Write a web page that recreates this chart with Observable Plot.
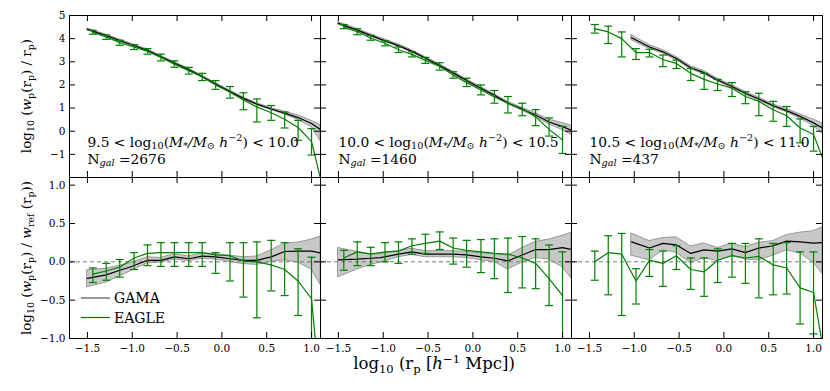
<!DOCTYPE html>
<html><head><meta charset="utf-8">
<script src="https://cdn.jsdelivr.net/npm/d3@7"></script>
<script src="https://cdn.jsdelivr.net/npm/@observablehq/plot@0.6"></script>
<style>
body{margin:0;background:#fff;}
#fig{position:relative;width:830px;height:391px;overflow:hidden;font-family:"DejaVu Serif",serif;background:#fff;}
#fig svg{position:absolute;}
</style></head><body><div id="fig"></div>
<script>
// ---------- data ----------
const massLo = ["9.5", "10.0", "10.5"];
const massHi = ["10.0", "10.5", "11.0"];
const nGal = [2676, 1460, 437];
const xTicks = [-1.5, -1.0, -0.5, 0.0, 0.5, 1.0];
const yTicksTop = [-1, 0, 1, 2, 3, 4, 5];
const yTicksBottom = [-1.0, -0.5, 0.0, 0.5, 1.0];

const eagleX = [-1.44, -1.29, -1.14, -0.98, -0.83, -0.68, -0.53, -0.37, -0.22, -0.07, 0.09, 0.24, 0.39, 0.55, 0.70, 0.85, 1.00, 1.16];
const gamaX  = [-1.5, -1.29, -1.14, -1.03, -0.83, -0.68, -0.53, -0.37, -0.22, -0.07, 0.09, 0.24, 0.39, 0.55, 0.70, 0.85, 1.00, 1.1];

// panel 1 (9.5-10.0)
const gamaWp1   = [4.40, 4.13, 3.92, 3.77, 3.50, 3.22, 2.95, 2.66, 2.36, 2.04, 1.72, 1.42, 1.17, 0.96, 0.78, 0.59, 0.33, 0.07];
const gamaWp1Lo = [4.36, 4.09, 3.88, 3.73, 3.46, 3.18, 2.91, 2.62, 2.32, 2.00, 1.68, 1.38, 1.13, 0.92, 0.72, 0.49, 0.18, -0.43];
const gamaWp1Hi = [4.44, 4.17, 3.96, 3.81, 3.54, 3.26, 2.99, 2.70, 2.40, 2.08, 1.76, 1.46, 1.21, 1.00, 0.84, 0.69, 0.45, 0.26];
const eagleWp1   = [4.27, 4.07, 3.83, 3.64, 3.45, 3.19, 2.90, 2.62, 2.35, 2.00, 1.68, 1.35, 1.05, 0.80, 0.52, 0.16, -0.45, -3.0];
const eagleWp1Lo = [4.19, 3.97, 3.71, 3.53, 3.33, 3.04, 2.76, 2.47, 2.19, 1.81, 1.43, 0.93, 0.40, 0.47, 0.14, -0.39, -1.03, null];
const eagleWp1Hi = [4.36, 4.16, 3.93, 3.74, 3.57, 3.33, 3.04, 2.76, 2.50, 2.19, 1.93, 1.66, 1.39, 1.11, 0.83, 0.47, 0.11, null];
const gamaRat1   = [-0.215, -0.17, -0.11, -0.07, 0.02, 0.02, 0.065, 0.04, 0.075, 0.065, 0.04, 0.02, 0.02, 0.065, 0.135, 0.14, 0.14, 0.115];
const gamaRat1Lo = [-0.33, -0.27, -0.19, -0.13, -0.02, -0.01, 0.03, 0.01, 0.04, 0.03, 0.00, -0.03, -0.04, 0.00, 0.02, -0.01, -0.10, -0.30];
const gamaRat1Hi = [-0.11, -0.09, -0.05, -0.02, 0.06, 0.05, 0.10, 0.07, 0.11, 0.10, 0.08, 0.06, 0.07, 0.15, 0.24, 0.25, 0.29, 0.33];
const eagleRat1   = [-0.16, -0.12, -0.07, 0.05, 0.11, 0.12, 0.12, 0.12, 0.12, 0.09, 0.08, 0.01, 0.00, -0.04, -0.10, -0.25, -0.48, -2.5];
const eagleRat1Lo = [-0.27, -0.24, -0.20, -0.10, -0.05, -0.06, -0.06, -0.06, -0.06, -0.15, -0.25, -0.46, -0.73, -0.38, -0.44, -0.70, -1.05, null];
const eagleRat1Hi = [-0.08, -0.02, 0.03, 0.12, 0.22, 0.25, 0.25, 0.25, 0.25, 0.12, 0.25, 0.25, 0.26, 0.28, 0.25, 0.17, 0.06, null];

// panel 2 (10.0-10.5)
const gamaWp2   = [4.66, 4.37, 4.14, 3.98, 3.70, 3.45, 3.16, 2.84, 2.52, 2.19, 1.86, 1.55, 1.22, 0.95, 0.70, 0.40, 0.20, 0.04];
const gamaWp2Lo = [4.61, 4.32, 4.09, 3.93, 3.65, 3.40, 3.11, 2.79, 2.47, 2.14, 1.81, 1.50, 1.17, 0.89, 0.62, 0.30, 0.05, -0.16];
const gamaWp2Hi = [4.71, 4.42, 4.19, 4.03, 3.75, 3.50, 3.21, 2.89, 2.57, 2.24, 1.91, 1.60, 1.27, 1.01, 0.78, 0.50, 0.35, 0.24];
const eagleWp2   = [4.50, 4.30, 4.03, 3.80, 3.52, 3.32, 3.06, 2.80, 2.43, 2.10, 1.78, 1.48, 1.21, 0.98, 0.62, 0.08, -0.38, null];
const eagleWp2Lo = [4.43, 4.17, 3.93, 3.69, 3.40, 3.21, 2.93, 2.64, 2.29, 1.93, 1.57, 1.21, 0.79, 0.67, 0.24, -0.21, -0.96, null];
const eagleWp2Hi = [4.61, 4.43, 4.14, 3.90, 3.64, 3.43, 3.19, 2.96, 2.57, 2.29, 2.00, 1.76, 1.50, 1.21, 0.93, 0.57, 0.21, null];
const gamaRat2   = [0.026, 0.035, 0.047, 0.055, 0.10, 0.13, 0.10, 0.10, 0.10, 0.09, 0.065, 0.047, 0.013, 0.09, 0.16, 0.16, 0.185, 0.16];
const gamaRat2Lo = [-0.20, -0.10, -0.04, -0.01, 0.06, 0.09, 0.06, 0.06, 0.06, 0.05, 0.02, 0.00, -0.10, -0.01, 0.05, 0.03, -0.07, -0.22];
const gamaRat2Hi = [0.18, 0.13, 0.10, 0.10, 0.14, 0.17, 0.14, 0.14, 0.14, 0.13, 0.11, 0.10, 0.08, 0.18, 0.26, 0.29, 0.34, 0.38];
const eagleRat2   = [0.05, 0.13, 0.10, 0.13, 0.14, 0.21, 0.24, 0.27, 0.18, 0.15, 0.13, 0.11, 0.10, 0.05, -0.02, -0.22, -0.44, null];
const eagleRat2Lo = [-0.11, -0.05, -0.05, 0.00, -0.02, 0.10, 0.11, 0.16, -0.03, -0.07, -0.14, -0.22, -0.40, -0.34, -0.35, -0.57, -1.05, null];
const eagleRat2Hi = [0.15, 0.26, 0.19, 0.25, 0.26, 0.30, 0.36, 0.39, 0.31, 0.28, 0.29, 0.30, 0.31, 0.33, 0.30, 0.22, 0.13, null];

// panel 3 (10.5-11.0)
const gamaWp3   = [null, null, null, 4.04, 3.64, 3.43, 3.14, 2.74, 2.53, 2.21, 1.93, 1.64, 1.39, 1.10, 0.89, 0.64, 0.36, 0.14];
const gamaWp3Lo = [null, null, null, 3.93, 3.56, 3.36, 3.07, 2.67, 2.46, 2.15, 1.87, 1.58, 1.33, 1.04, 0.82, 0.55, 0.22, -0.11];
const gamaWp3Hi = [null, null, null, 4.15, 3.72, 3.50, 3.21, 2.81, 2.60, 2.27, 1.99, 1.70, 1.45, 1.16, 0.96, 0.73, 0.50, 0.34];
const eagleWp3   = [4.43, 4.29, 4.00, 3.40, 3.40, 3.10, 2.93, 2.50, 2.24, 2.04, 1.86, 1.50, 1.29, 0.93, 0.67, 0.14, -0.14, -1.75];
const eagleWp3Lo = [4.24, 3.79, 3.21, 3.10, 3.21, 2.79, 2.71, 2.19, 1.81, 1.76, 1.50, 1.19, 0.67, 0.43, 0.21, -0.50, -0.86, null];
const eagleWp3Hi = [4.61, 4.54, 4.29, 3.57, 3.54, 3.29, 3.07, 2.71, 2.50, 2.24, 2.10, 1.71, 1.64, 1.29, 1.07, 0.53, 0.21, null];
const gamaRat3   = [null, null, null, 0.26, 0.18, 0.24, 0.22, 0.11, 0.155, 0.14, 0.17, 0.12, 0.18, 0.21, 0.27, 0.26, 0.245, 0.25];
const gamaRat3Lo = [null, null, null, 0.08, 0.02, 0.15, 0.12, -0.02, 0.05, 0.01, 0.08, 0.03, 0.02, 0.08, 0.15, 0.11, -0.01, -0.16];
const gamaRat3Hi = [null, null, null, 0.37, 0.27, 0.31, 0.32, 0.20, 0.24, 0.18, 0.24, 0.19, 0.25, 0.27, 0.35, 0.38, 0.40, 0.45];
const eagleRat3   = [0.00, 0.12, 0.10, -0.25, 0.02, -0.02, 0.08, -0.10, -0.13, 0.02, 0.08, 0.05, 0.07, -0.04, -0.08, -0.34, -0.40, -1.5];
const eagleRat3Lo = [-0.24, -0.43, -0.70, -0.55, -0.19, -0.32, -0.10, -0.36, -0.45, -0.27, -0.20, -0.28, -0.47, -0.43, -0.42, -0.81, -0.94, null];
const eagleRat3Hi = [0.14, 0.34, 0.37, -0.09, 0.16, 0.14, 0.21, 0.05, 0.05, 0.17, 0.24, 0.24, 0.30, 0.24, 0.25, 0.13, 0.13, null];

// ---------- layout ----------
const GREEN = "#008000";
const FL = [69, 320, 571];
const FW = 251;
const ROWS = [
  {top: 15, h: 162, domain: [-2, 5], ticks: yTicksTop, fmt: d => (d < 0 ? "−" : "") + Math.abs(d)},
  {top: 177, h: 161, domain: [-1, 1.1], ticks: yTicksBottom, fmt: d => (d < 0 ? "−" : "") + Math.abs(d).toFixed(1)}
];
const M = {l: 40, r: 12, t: 10, b: 30};
const fmtX = d => (d < 0 ? "−" : "") + Math.abs(d).toFixed(1);
const fig = document.getElementById("fig");

function recs(xs, ys, los, his) {
  return xs.map((x, i) => ({x, y: ys[i], lo: los[i], hi: his[i]})).filter(d => d.y != null);
}
const cap = {draw(ctx) { ctx.moveTo(-4, 0); ctx.lineTo(4, 0); }};

function panel(c, r, g, e) {
  const R = ROWS[r];
  const gd = recs(gamaX, g[0], g[1], g[2]);
  const ed = recs(eagleX, e[0], e[1], e[2]);
  const eb = ed.filter(d => d.lo != null);
  const marks = [
    Plot.areaY(gd, {x: "x", y1: "lo", y2: "hi", fill: "#c8c8c8", stroke: "#8e8e8e", strokeWidth: 0.9, clip: true})
  ];
  if (r === 1) marks.push(Plot.ruleY([0], {stroke: "#7a7a7a", strokeWidth: 1, strokeDasharray: "4,3"}));
  marks.push(
    Plot.lineY(gd, {x: "x", y: "y", stroke: "black", strokeWidth: 1.2, clip: true}),
    Plot.ruleX(eb, {x: "x", y1: "lo", y2: "hi", stroke: GREEN, strokeWidth: 1.2, clip: true}),
    Plot.dot(eb, {x: "x", y: "lo", symbol: cap, fill: "none", stroke: GREEN, strokeWidth: 1.2, clip: true}),
    Plot.dot(eb, {x: "x", y: "hi", symbol: cap, fill: "none", stroke: GREEN, strokeWidth: 1.2, clip: true}),
    Plot.lineY(ed, {x: "x", y: "y", stroke: GREEN, strokeWidth: 1.2, clip: true}),
    Plot.ruleX(xTicks, {insetTop: R.h - 6, stroke: "black"}),
    Plot.ruleX(xTicks, {insetBottom: R.h - 6, stroke: "black"}),
    Plot.ruleY(R.ticks, {insetRight: FW - 6, stroke: "black"}),
    Plot.ruleY(R.ticks, {insetLeft: FW - 6, stroke: "black"}),
    Plot.frame({stroke: "black", strokeWidth: 1})
  );
  if (c === 0) marks.push(Plot.axisY({ticks: R.ticks, tickSize: 0, tickPadding: 4, tickFormat: R.fmt, label: null}));
  if (r === 1) marks.push(Plot.axisX({ticks: xTicks, tickSize: 0, tickPadding: 6, tickFormat: fmtX, label: null}));
  const svg = Plot.plot({
    width: M.l + FW + M.r, height: M.t + R.h + M.b,
    marginLeft: M.l, marginRight: M.r, marginTop: M.t, marginBottom: M.b,
    x: {domain: [-1.7, 1.1], axis: null},
    y: {domain: R.domain, axis: null},
    style: {background: "transparent", fontFamily: "DejaVu Serif", fontSize: "10.5px", color: "black", overflow: "visible"},
    marks
  });
  svg.style.left = (FL[c] - M.l) + "px";
  svg.style.top = (R.top - M.t) + "px";
  fig.appendChild(svg);
}

const panelsData = [
  [[gamaWp1, gamaWp1Lo, gamaWp1Hi], [eagleWp1, eagleWp1Lo, eagleWp1Hi], [gamaRat1, gamaRat1Lo, gamaRat1Hi], [eagleRat1, eagleRat1Lo, eagleRat1Hi]],
  [[gamaWp2, gamaWp2Lo, gamaWp2Hi], [eagleWp2, eagleWp2Lo, eagleWp2Hi], [gamaRat2, gamaRat2Lo, gamaRat2Hi], [eagleRat2, eagleRat2Lo, eagleRat2Hi]],
  [[gamaWp3, gamaWp3Lo, gamaWp3Hi], [eagleWp3, eagleWp3Lo, eagleWp3Hi], [gamaRat3, gamaRat3Lo, gamaRat3Hi], [eagleRat3, eagleRat3Lo, eagleRat3Hi]]
];
panelsData.forEach((p, c) => { panel(c, 0, p[0], p[1]); panel(c, 1, p[2], p[3]); });

// ---------- text overlay ----------
const ov = d3.create("svg").attr("width", 830).attr("height", 391)
  .style("left", "0px").style("top", "0px")
  .attr("font-family", "DejaVu Serif").attr("fill", "black");
function rich(sel, parts, size, subDrop = 0.22) {
  let shift = 0;
  for (const p of parts) {
    const target = p.sub ? subDrop * size : p.sup ? -0.38 * size : 0;
    const s = sel.append("tspan").text(p.t).attr("dy", target - shift);
    shift = target;
    if (p.sub || p.sup) s.attr("font-size", size * 0.7);
    if (p.it) s.attr("font-style", "italic");
  }
  return sel;
}
// annotations
for (let c = 0; c < 3; c++) {
  const x0 = FL[c] + 18.5;
  rich(ov.append("text").attr("x", x0).attr("y", 146.5).attr("font-size", 13.8), [
    {t: massLo[c] + " < log"}, {t: "10", sub: true}, {t: "("}, {t: "M", it: true}, {t: "*", sub: true, it: true},
    {t: "/", it: true}, {t: "M", it: true}, {t: "⊙", sub: true}, {t: " h", it: true}, {t: "−2", sup: true},
    {t: ") < " + massHi[c]}
  ], 13.8, 0.16);
  rich(ov.append("text").attr("x", x0).attr("y", 163.5).attr("font-size", 13.8), [
    {t: "N"}, {t: "gal", sub: true, it: true}, {t: " =" + nGal[c]}
  ], 13.8, 0.16);
}
// axis titles
rich(ov.append("text").attr("text-anchor", "middle").attr("font-size", 13.5)
  .attr("transform", "translate(31,96) rotate(-90)"), [
  {t: "log"}, {t: "10", sub: true}, {t: " ("}, {t: "w", it: true}, {t: "p", sub: true}, {t: "(r"}, {t: "p", sub: true},
  {t: ") / r"}, {t: "p", sub: true}, {t: ")"}
], 13.5);
rich(ov.append("text").attr("text-anchor", "middle").attr("font-size", 13.5)
  .attr("transform", "translate(31,258) rotate(-90)"), [
  {t: "log"}, {t: "10", sub: true}, {t: " ("}, {t: "w", it: true}, {t: "p", sub: true}, {t: "(r"}, {t: "p", sub: true},
  {t: ") / "}, {t: "w", it: true}, {t: "ref", sub: true}, {t: " (r"}, {t: "p", sub: true}, {t: "))"}
], 13.5);
rich(ov.append("text").attr("text-anchor", "middle").attr("font-size", 16.5)
  .attr("x", 434).attr("y", 369), [
  {t: "log"}, {t: "10", sub: true}, {t: " (r"}, {t: "p", sub: true}, {t: " ["}, {t: "h", it: true}, {t: "−1", sup: true},
  {t: " Mpc])"}
], 16.5);
// legend
const legendNames = ["GAMA", "EAGLE"];
const legendColors = ["#7f7f7f", GREEN];
const legendWidths = [1.6, 1.2];
legendNames.forEach((n, i) => {
  const y = 298 + i * 19.5;
  ov.append("line").attr("x1", 81).attr("x2", 110).attr("y1", y).attr("y2", y)
    .attr("stroke", legendColors[i]).attr("stroke-width", legendWidths[i]);
  ov.append("text").attr("x", 114).attr("y", y + 5).attr("font-size", 14).text(n);
});
fig.appendChild(ov.node());
</script></body></html>
